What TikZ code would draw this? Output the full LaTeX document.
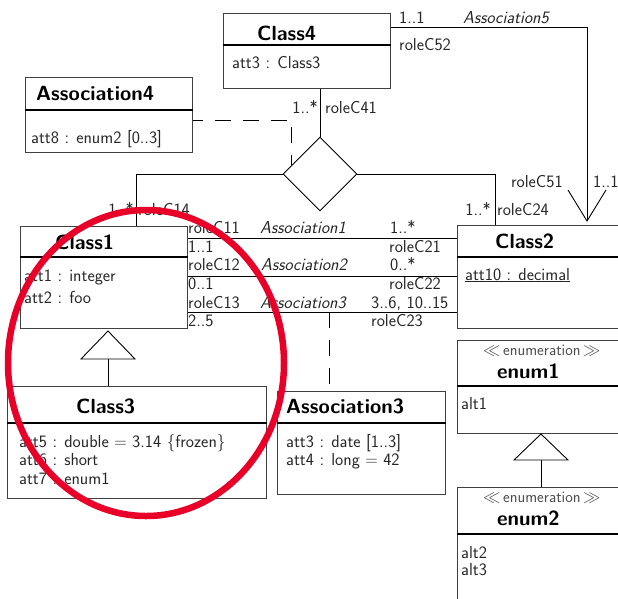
\documentclass[tikz,border=0pt]{standalone}
\usetikzlibrary{shapes.geometric,calc}
\definecolor{markred}{RGB}{232,0,40}
\begin{document}
\begin{tikzpicture}[x=1pt,y=-1pt,
  font=\sffamily\fontsize{17.4}{20}\selectfont,
  box/.style={draw=black!75, line width=1.1pt, inner sep=0, anchor=north west},
  divider/.style={line width=2pt},
  title/.style={font=\sffamily\bfseries\fontsize{20.5}{24}\selectfont, inner sep=0, anchor=base west},
  txt/.style={inner sep=0, anchor=base west, text=black!85},
  lbl/.style={inner sep=0, anchor=base west, text=black!85},
  lble/.style={inner sep=0, anchor=base east, text=black!85},
  assocname/.style={font=\sffamily\itshape\fontsize{17.4}{20}\selectfont, inner sep=0, anchor=base west, text=black!85},
  stereo/.style={font=\sffamily\fontsize{16}{19}\selectfont, inner sep=0, anchor=base west, text=black!70},
  wire/.style={line width=0.9pt},
  dashwire/.style={wire, dash pattern=on 16pt off 12pt},
]
\clip (0,0) rectangle (618,598);

% ---------- classes ----------
\node[box, minimum width=167, minimum height=75] (c4) at (223,13) {};
\draw[divider] (c4.west |- 0,45) -- (c4.east |- 0,45);
\node[title] (c4t) at (257,40) {Class4};
\node[txt] (c4a) at (232,68) {att3 : Class3};

\node[box, minimum width=167, minimum height=75] (as4) at (25,77) {};
\draw[divider] (as4.west |- 0,110) -- (as4.east |- 0,110);
\node[title] (as4t) at (36,100) {Association4};
\node[txt] (as4a) at (31,143) {att8 : enum2 [0..3]};

\node[box, minimum width=167, minimum height=102] (c1) at (20,226) {};
\draw[divider] (c1.west |- 0,257) -- (c1.east |- 0,257);
\node[title] (c1t) at (55,249) {Class1};
\node[txt] (c1a) at (24,281) {att1 : integer};
\node[txt] (c1b) at (24,303) {att2 : foo};

\node[box, minimum width=220, minimum height=103] (c2) at (457,225) {};
\draw[divider] (c2.west |- 0,257) -- (c2.east |- 0,257);
\node[title] (c2t) at (495,248) {Class2};
\node[txt] (c2a) at (465,280) {\underline{att10 : decimal}};

\node[box, minimum width=259, minimum height=112] (c3) at (7,386) {};
\draw[divider] (c3.west |- 0,423) -- (c3.east |- 0,423);
\node[title] (c3t) at (76,413) {Class3};
\node[txt] (c3a) at (19,447) {att5 : double $=$ 3.14 $\{$frozen$\}$};
\node[txt] (c3b) at (19,465) {att6 : short};
\node[txt] (c3c) at (19,484) {att7 : enum1};

\node[box, minimum width=168, minimum height=103] (as3) at (277,391) {};
\draw[divider] (as3.west |- 0,423) -- (as3.east |- 0,423);
\node[title] (as3t) at (286,413) {Association3};
\node[txt] (as3a) at (286,447) {att3 : date [1..3]};
\node[txt] (as3b) at (286,465) {att4 : long $=$ 42};

\node[box, minimum width=220, minimum height=93] (e1) at (457,340) {};
\draw[divider] (e1.west |- 0,386) -- (e1.east |- 0,386);
\node[stereo] (e1s) at (483,355) {$\ll$\,enumeration\,$\gg$};
\node[title] (e1t) at (497,378) {enum1};
\node[txt] (e1a) at (461,409) {alt1};

\node[box, minimum width=220, minimum height=150] (e2) at (457,487) {};
\draw[divider] (e2.west |- 0,534) -- (e2.east |- 0,534);
\node[stereo] (e2s) at (483,502) {$\ll$\,enumeration\,$\gg$};
\node[title] (e2t) at (497,525) {enum2};
\node[txt] (e2a) at (461,558) {alt2};
\node[txt] (e2b) at (461,575) {alt3};

% ---------- n-ary association ----------
\node[draw, wire, diamond, aspect=1, inner sep=0, minimum width=74, minimum height=74] (dia) at (320,174) {};
\draw[wire] (dia.north |- c4.south) -- (dia.north);
\draw[wire] (dia.west) -| (136,0 |- c1.north);
\draw[wire] (dia.east) -| (495,0 |- c2.north);
\draw[dashwire, dash phase=6pt] (as4.east |- 0,120) -| ($(dia.west)!0.25!(dia.north)$);

\node[lble] (m41) at (318,113) {1..*};
\node[lbl] (r41) at (325,113) {roleC41};
\node[lble] (m14) at (134,215) {1..*};
\node[lbl] (r14) at (138,215) {roleC14};
\node[lble] (m24) at (491,215) {1..*};
\node[lbl] (r24) at (497,215) {roleC24};

% ---------- Association5 ----------
\coordinate (tip5) at (587,221);
\draw[wire] (c4.east |- 0,27) -| (tip5);
\draw[wire] ([shift={(-19,-31)}]tip5) -- (tip5) -- ([shift={(19,-31)}]tip5);
\node[lbl] (m52) at (399,23) {1..1};
\node[assocname] (a5) at (463,23) {Association5};
\node[lbl] (r52) at (399,50) {roleC52};
\node[lble] (r51) at (563,187) {roleC51};
\node[lbl] (m51) at (593,187) {1..1};

% ---------- binary associations Class1 -- Class2 ----------
\draw[wire] (c1.east |- 0,238) -- (c2.west |- 0,238);
\draw[wire] (c1.east |- 0,276) -- (c2.west |- 0,276);
\draw[wire] (c1.east |- 0,312) -- (c2.west |- 0,312);

\node[lbl] (r11) at (188,233) {roleC11};
\node[assocname] (a1) at (260,233) {Association1};
\node[lbl] (m21) at (390,233) {1..*};
\node[lbl] (m11) at (188,252) {1..1};
\node[lbl] (r21) at (389,252) {roleC21};

\node[lbl] (r12) at (188,270) {roleC12};
\node[assocname] (a2) at (261,270) {Association2};
\node[lbl] (m22) at (390,270) {0..*};
\node[lbl] (m12) at (188,289) {0..1};
\node[lbl] (r22) at (389,289) {roleC22};

\node[lbl] (r13) at (188,308) {roleC13};
\node[assocname] (a3) at (260,308) {Association3};
\node[lbl] (m23) at (371,308) {3..6, 10..15};
\node[lbl] (m13) at (188,326) {2..5};
\node[lbl] (r23) at (371,326) {roleC23};

% association class link
\coordinate (a3mid) at (329,312);
\draw[dashwire] (a3mid) -- (a3mid |- as3.north);

% ---------- generalisations ----------
\coordinate (g1apex) at (108,331);
\coordinate (g1base) at (108,359);
\draw[wire] (g1base) -- (g1base |- c3.north);
\draw[wire, fill=white] ([xshift=-27pt]g1base) -- (g1apex) -- ([xshift=27pt]g1base) -- cycle;

\coordinate (g2apex) at (541,434);
\coordinate (g2base) at (541,460);
\draw[wire] (g2base) -- (g2base |- e2.north);
\draw[wire, fill=white] ([xshift=-27pt]g2base) -- (g2apex) -- ([xshift=27pt]g2base) -- cycle;

% ---------- highlight ----------
\draw[markred, line width=6.5pt] (146,363) ellipse [x radius=138, y radius=153];
\end{tikzpicture}
\end{document}
